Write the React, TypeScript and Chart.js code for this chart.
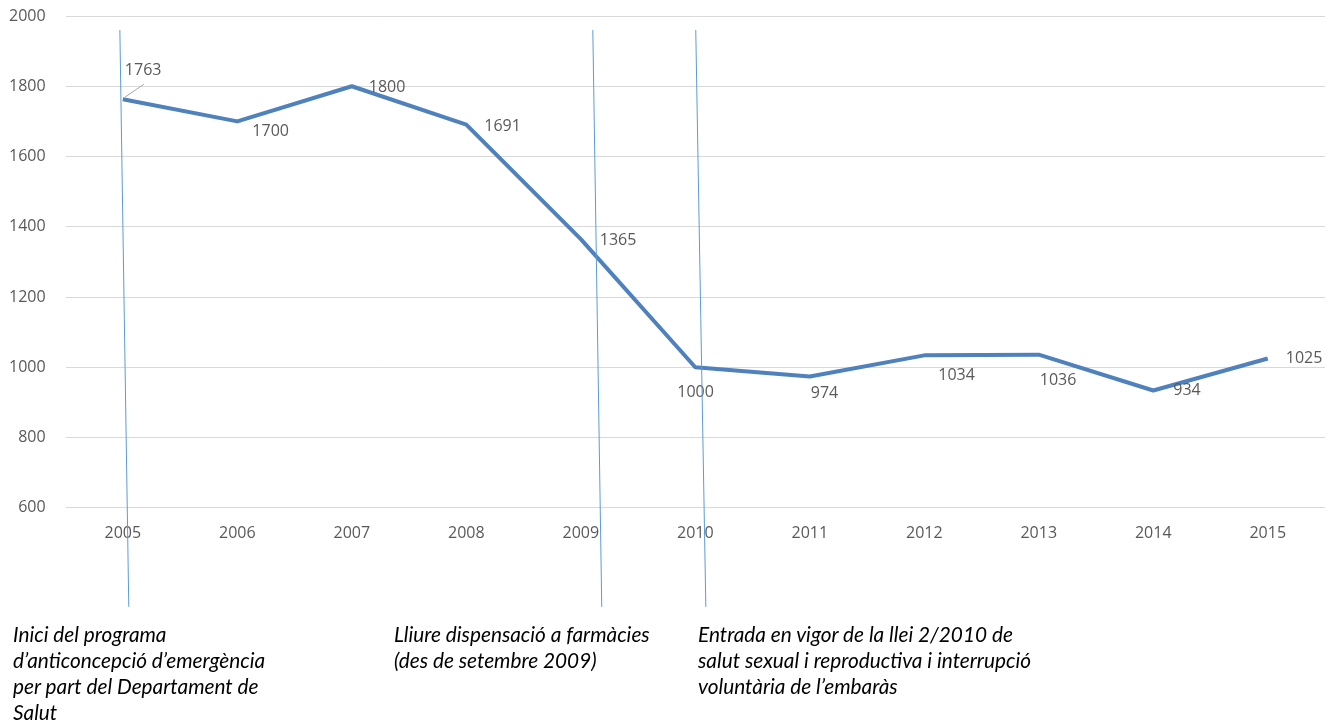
import React, { useEffect, useRef } from "react";
import { Chart, registerables } from "chart.js";

Chart.register(...registerables);

const years = ["2005", "2006", "2007", "2008", "2009", "2010", "2011", "2012", "2013", "2014", "2015"];
const values = [1763, 1700, 1800, 1691, 1365, 1000, 974, 1034, 1036, 934, 1025];
const yTicks = [600, 800, 1000, 1200, 1400, 1600, 1800, 2000];

// label placement (style): offset from point in px [dx, dy]
const labelOffsets: [number, number][] = [
  [2, -29], [15, 10], [17, 1], [18, 2], [19, 1], [-18, 25], [1, 17], [14, 20], [1, 26], [20, 0], [18, 0],
];

// event markers: x in category units (top, bottom), y top value, y bottom value
const markerXTop = [-0.026, 4.105, 5.004];
const markerXBottom = [0.052, 4.183, 5.092];
const markerYTop = 1960;
const markerYBottom = 318;

const notes = [
  ["Inici del programa", "d\u2019anticoncepció d\u2019emergència", "per part del Departament de", "Salut"],
  ["Lliure dispensació a farmàcies", "(des de setembre 2009)"],
  ["Entrada en vigor de la llei 2/2010 de", "salut sexual i reproductiva i interrupció", "voluntària de l\u2019embaràs"],
];
const noteLeft = [13, 394, 698];

const FONT = "'Open Sans', sans-serif";
const GRAY = "#595959";

export default function App() {
  const ref = useRef<HTMLCanvasElement | null>(null);

  useEffect(() => {
    if (!ref.current) return;
    const labelsPlugin = {
      id: "labelsPlugin",
      afterDatasetsDraw(chart: any) {
        const ctx = chart.ctx;
        const meta = chart.getDatasetMeta(0);
        ctx.save();
        ctx.font = `16px ${FONT}`;
        ctx.fillStyle = GRAY;
        ctx.textAlign = "left";
        ctx.textBaseline = "middle";
        meta.data.forEach((pt: any, i: number) => {
          const [dx, dy] = labelOffsets[i];
          ctx.fillText(String(values[i]), pt.x + dx, pt.y + dy);
          if (i === 0) {
            ctx.strokeStyle = "#A6A6A6";
            ctx.lineWidth = 1;
            ctx.beginPath();
            ctx.moveTo(pt.x + 2, pt.y - 2);
            ctx.lineTo(pt.x + 21, pt.y - 15);
            ctx.stroke();
          }
        });
        ctx.restore();
      },
      afterDraw(chart: any) {
        const ctx = chart.ctx;
        const xs = chart.scales.x;
        const ys = chart.scales.y;
        ctx.save();
        ctx.strokeStyle = "#5B9BD5";
        ctx.lineWidth = 1;
        for (let i = 0; i < markerXTop.length; i++) {
          ctx.beginPath();
          ctx.moveTo(xs.getPixelForValue(markerXTop[i]), ys.getPixelForValue(markerYTop));
          ctx.lineTo(xs.getPixelForValue(markerXBottom[i]), ys.getPixelForValue(markerYBottom));
          ctx.stroke();
        }
        ctx.restore();
      },
    };

    const chart = new Chart(ref.current, {
      type: "line",
      data: {
        labels: years,
        datasets: [
          {
            data: values,
            borderColor: "#4F81BD",
            borderWidth: 4,
            pointRadius: 0,
            tension: 0,
            borderJoinStyle: "round",
            fill: false,
          },
        ],
      },
      options: {
        responsive: false,
        animation: false,
        devicePixelRatio: 1,
        layout: { padding: { left: 9, right: 14, top: 16, bottom: 185 } },
        plugins: { legend: { display: false }, tooltip: { enabled: false } },
        scales: {
          x: {
            offset: true,
            grid: { display: false, drawTicks: true, tickLength: 16 },
            border: { display: false },
            ticks: { color: GRAY, font: { family: FONT, size: 16 }, padding: 0, maxRotation: 0 },
          },
          y: {
            min: 600,
            max: 2000,
            afterBuildTicks: (axis: any) => {
              axis.ticks = yTicks.map((v) => ({ value: v }));
            },
            grid: { color: "#D9D9D9", drawTicks: true, tickLength: 20, tickColor: "rgba(0,0,0,0)", lineWidth: 1 },
            border: { display: false },
            ticks: {
              color: GRAY,
              font: { family: FONT, size: 16 },
              padding: 0,
              callback: (v: any) => String(v),
            },
          },
        },
      },
      plugins: [labelsPlugin],
    });
    return () => chart.destroy();
  }, []);

  return (
    <div style={{ position: "absolute", left: 0, top: 0, width: 1339, height: 728, background: "#fff" }}>
      <canvas ref={ref} width={1339} height={728} style={{ position: "absolute", left: 0, top: 0 }} />
      {notes.map((lines, i) => (
        <div
          key={i}
          style={{
            position: "absolute",
            left: noteLeft[i],
            top: 621,
            fontFamily: "Lato, sans-serif",
            fontStyle: "italic",
            fontSize: 20.8,
            lineHeight: "26px",
            color: "#000",
            whiteSpace: "nowrap",
          }}
        >
          {lines.map((l, j) => (
            <div key={j}>{l}</div>
          ))}
        </div>
      ))}
    </div>
  );
}
